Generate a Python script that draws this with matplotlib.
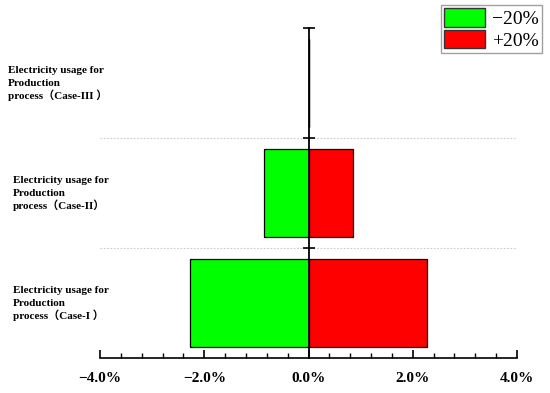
import matplotlib
matplotlib.use("Agg")
import matplotlib.pyplot as plt
import matplotlib.transforms as mtransforms
from matplotlib.patches import Patch
from matplotlib.ticker import MultipleLocator, FuncFormatter

categories = ["Electricity usage for\nProduction\nprocess（Case-I ）",
              "Electricity usage for\nProduction\nprocess（Case-II）",
              "Electricity usage for\nProduction\nprocess（Case-III ）"]
minus20 = [-2.27, -0.85, 0.0]
plus20 = [2.27, 0.85, 0.0]
label_x = [13, 13, 8]  # pixel offsets for labels

serif = ['Liberation Serif', 'Noto Sans CJK SC', 'DejaVu Sans']

fig = plt.figure(figsize=(5.5, 3.93), dpi=100)
ax = fig.add_axes([100/550, 1-358/393, 417/550, 330/393])

ypos = list(range(len(categories)))
ax.barh(ypos, minus20, height=0.8, color='#00FF00', edgecolor='black', linewidth=0.9, zorder=2)
ax.barh(ypos, plus20, height=0.8, color='#FF0000', edgecolor='black', linewidth=0.9, zorder=2)

ax.set_xlim(-4, 4)
ax.set_ylim(-0.5, 2.5)

for s in ['top', 'right']:
    ax.spines[s].set_visible(False)
ax.spines['left'].set_position(('data', 0))
ax.spines['left'].set_zorder(3)
ax.spines['left'].set_linewidth(1.3)
ax.spines['bottom'].set_linewidth(1.2)

ax.set_yticks([0.5, 1.5, 2.5])
ax.set_yticklabels([])
ax.tick_params(axis='y', direction='inout', length=8, width=1.2)

ax.xaxis.set_major_locator(MultipleLocator(2))
ax.xaxis.set_minor_locator(MultipleLocator(0.4))
ax.xaxis.set_major_formatter(FuncFormatter(lambda v, p: ("\u2212" if v < 0 else "") + f"{abs(v):.1f}%"))
ax.tick_params(axis='x', which='major', direction='in', length=6, width=1.2, pad=10)
ax.tick_params(axis='x', which='minor', direction='in', length=3.5, width=1.0)
for t in ax.get_xticklabels():
    t.set_fontfamily(serif)
    t.set_fontweight('bold')
    t.set_fontsize(11)

for y in [0.5, 1.5]:
    ax.axhline(y, color='#cccccc', linestyle=(0, (1.5, 1.5)), linewidth=0.8, zorder=1)

base = mtransforms.blended_transform_factory(fig.transFigure, ax.transData)
line_offsets_px = [-10, 3, 16]  # baseline offsets (downward) from category centre
for i, lab in enumerate(categories):
    for line, off in zip(lab.split("\n"), line_offsets_px):
        tr = base + mtransforms.ScaledTranslation(0, -off / 100, fig.dpi_scale_trans)
        ax.text(label_x[i]/550, i, line, transform=tr,
                ha='left', va='baseline', fontsize=8.0, fontweight='bold', family=serif)

handles = [Patch(facecolor='#00FF00', edgecolor='#333333', label='\u221220%'),
           Patch(facecolor='#FF0000', edgecolor='#333333', label='+20%')]
leg = fig.legend(handles=handles, loc='upper right', bbox_to_anchor=(542/550, 1-5/393),
                 prop={'family': serif, 'size': 14}, frameon=True, fancybox=False,
                 edgecolor='#888888', handlelength=2.1, handleheight=1.1, handletextpad=0.4,
                 borderpad=0.15, labelspacing=0.1, borderaxespad=0)
leg.get_frame().set_linewidth(1.0)

fig.savefig("out.png", dpi=100)
